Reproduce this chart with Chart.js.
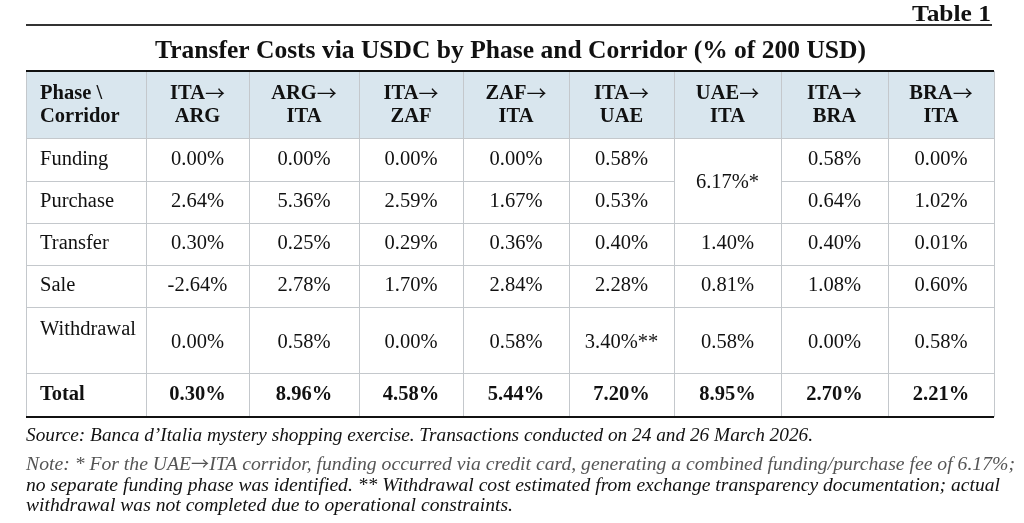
<!DOCTYPE html>
<html>
<head>
<meta charset="utf-8">
<title>Transfer Costs via USDC</title>
<script src="https://cdn.jsdelivr.net/npm/chart.js@4.4.1/dist/chart.umd.min.js"></script>
<style>
  html, body { margin: 0; padding: 0; background: #fff; }
  #table1 { display: block; }
</style>
</head>
<body>
<canvas id="table1" width="1024" height="523"></canvas>
<script>
// table content
const corridors = ['ITA→ARG', 'ARG→ITA', 'ITA→ZAF', 'ZAF→ITA', 'ITA→UAE', 'UAE→ITA', 'ITA→BRA', 'BRA→ITA'];
const phases = ['Funding', 'Purchase', 'Transfer', 'Sale', 'Withdrawal', 'Total'];
const funding = [0.00, 0.00, 0.00, 0.00, 0.58, null, 0.58, 0.00];
const purchase = [2.64, 5.36, 2.59, 1.67, 0.53, null, 0.64, 1.02];
const transfer = [0.30, 0.25, 0.29, 0.36, 0.40, 1.40, 0.40, 0.01];
const sale = [-2.64, 2.78, 1.70, 2.84, 2.28, 0.81, 1.08, 0.60];
const withdrawal = [0.00, 0.58, 0.00, 0.58, 3.40, 0.58, 0.00, 0.58];
const total = [0.30, 8.96, 4.58, 5.44, 7.20, 8.95, 2.70, 2.21];
// UAE->ITA funding + purchase were one fee (merged cell)
const combinedCorridor = 'UAE→ITA';
const combinedValue = 6.17;
const withdrawalMarks = ['', '', '', '', '**', '', '', ''];

const tableLabel = 'Table 1';
const titleText = 'Transfer Costs via USDC by Phase and Corridor (% of 200 USD)';
const cornerHeader = ['Phase \\', 'Corridor'];
const sourceText = 'Source: Banca d\u2019Italia mystery shopping exercise. Transactions conducted on 24 and 26 March 2026.';
const noteLines = [
    'Note: * For the UAE→ITA corridor, funding occurred via credit card, generating a combined funding/purchase fee of 6.17%;',
    'no separate funding phase was identified. ** Withdrawal cost estimated from exchange transparency documentation; actual',
    'withdrawal was not completed due to operational constraints.'
];

// layout (scale units == px inside the chart area)
const colWidths = [120, 103, 110, 104, 106, 105, 107, 107, 106];
const rowHeights = [67, 43, 42, 42, 42, 66, 44];
const colEdges = [0];
colWidths.forEach(w => colEdges.push(colEdges[colEdges.length - 1] + w));
const rowEdges = [0];
rowHeights.forEach(h => rowEdges.push(rowEdges[rowEdges.length - 1] + h));
const colMid = (c) => (colEdges[c] + colEdges[c + 1]) / 2;
const rowMid = (r) => (rowEdges[r] + rowEdges[r + 1]) / 2;

const SERIF = "'Liberation Serif', 'Times New Roman', serif";
const ARROW_FONT = "20px 'Noto Sans CJK JP', 'DejaVu Sans', sans-serif";
const NOTE_ARROW_FONT = "17px 'Noto Sans CJK JP', 'DejaVu Sans', sans-serif";
const fmt = (v) => v.toFixed(2) + '%';

const rowSeries = [funding, purchase, transfer, sale, withdrawal, total];
const datasets = rowSeries.map((arr, i) => {
    const pts = [];
    arr.forEach((v, j) => {
        if (v === null) return;
        let yOff = 0;
        if (phases[i] === 'Withdrawal') yOff = 3;
        pts.push({ x: colMid(j + 1), y: rowMid(i + 1) + yOff, v: v, mark: phases[i] === 'Withdrawal' ? withdrawalMarks[j] : '' });
    });
    return { label: phases[i], data: pts, pointRadius: 0, bold: phases[i] === 'Total' };
});
const cj = corridors.indexOf(combinedCorridor) + 1;
datasets.push({
    label: 'Funding + Purchase',
    data: [{ x: colMid(cj), y: rowEdges[2] + 2, v: combinedValue, mark: '*' }],
    pointRadius: 0,
    bold: false
});

// header "XXX→" : letters in the serif, arrow in a font that has a proper long arrow
function drawCorridorTop(ctx, text, cx, cy) {
    const bold = 'bold 20.5px ' + SERIF;
    ctx.font = bold;
    const w1 = ctx.measureText(text).width;
    ctx.font = ARROW_FONT;
    const w2 = ctx.measureText('→').width;
    const x0 = cx - (w1 + w2) / 2;
    ctx.textAlign = 'left';
    ctx.font = bold;
    ctx.fillText(text, x0, cy);
    ctx.font = ARROW_FONT;
    ctx.fillText('→', x0 + w1, cy);
}

// text stretched/condensed to the measured line length, arrows swapped to the arrow font
function fitText(ctx, text, x, y, width, font) {
    const parts = text.split('→');
    const pieces = [];
    parts.forEach((p, i) => {
        if (i > 0) pieces.push({ t: '→', f: NOTE_ARROW_FONT });
        if (p) pieces.push({ t: p, f: font });
    });
    let w = 0;
    pieces.forEach(pc => { ctx.font = pc.f; pc.w = ctx.measureText(pc.t).width; w += pc.w; });
    ctx.save();
    ctx.translate(x, y);
    ctx.scale(width / w, 1);
    let cx = 0;
    pieces.forEach(pc => { ctx.font = pc.f; ctx.fillText(pc.t, cx, 0); cx += pc.w; });
    ctx.restore();
}

const tablePlugin = {
    id: 'tablePlugin',
    beforeDatasetsDraw(chart) {
        const ctx = chart.ctx;
        const xs = chart.scales.x, ys = chart.scales.y;
        const X = (v) => xs.getPixelForValue(v);
        const Y = (v) => ys.getPixelForValue(v);
        const right = colEdges[colEdges.length - 1];
        const bottom = rowEdges[rowEdges.length - 1];
        ctx.save();
        // header background
        ctx.fillStyle = '#d9e6ee';
        ctx.fillRect(X(0), Y(0), X(right) - X(0), Y(rowEdges[1]) - Y(0));
        // inner grid
        ctx.strokeStyle = '#c4c8cc';
        ctx.lineWidth = 1;
        ctx.beginPath();
        colEdges.forEach((e) => {
            const px = Math.round(X(e)) + 0.5;
            ctx.moveTo(px, Y(0));
            ctx.lineTo(px, Y(bottom));
        });
        for (let r = 1; r < rowEdges.length - 1; r++) {
            const py = Math.round(Y(rowEdges[r])) + 0.5;
            if (r === 2) {
                // skip merged cell
                ctx.moveTo(X(0), py);
                ctx.lineTo(X(colEdges[cj]), py);
                ctx.moveTo(X(colEdges[cj + 1]), py);
                ctx.lineTo(X(right), py);
            } else {
                ctx.moveTo(X(0), py);
                ctx.lineTo(X(right), py);
            }
        }
        ctx.stroke();
        // top/bottom rules
        ctx.strokeStyle = '#111';
        ctx.lineWidth = 2;
        ctx.beginPath();
        ctx.moveTo(X(0), Y(0));
        ctx.lineTo(X(right), Y(0));
        ctx.moveTo(X(0), Y(bottom));
        ctx.lineTo(X(right), Y(bottom));
        ctx.stroke();
        ctx.restore();
    },
    afterDatasetsDraw(chart) {
        const ctx = chart.ctx;
        const xs = chart.scales.x, ys = chart.scales.y;
        const X = (v) => xs.getPixelForValue(v);
        const Y = (v) => ys.getPixelForValue(v);
        ctx.save();
        ctx.fillStyle = '#111';
        ctx.textBaseline = 'middle';
        // header row
        ctx.font = 'bold 20.5px ' + SERIF;
        ctx.textAlign = 'left';
        ctx.fillText(cornerHeader[0], X(14), Y(rowMid(0) - 11));
        ctx.fillText(cornerHeader[1], X(14), Y(rowMid(0) + 12));
        corridors.forEach((c, j) => {
            const parts = c.split('→');
            drawCorridorTop(ctx, parts[0], X(colMid(j + 1)), Y(rowMid(0) - 11));
            ctx.font = 'bold 20.5px ' + SERIF;
            ctx.textAlign = 'center';
            ctx.fillText(parts[1], X(colMid(j + 1)), Y(rowMid(0) + 12));
        });
        // phase labels
        ctx.textAlign = 'left';
        phases.forEach((p, i) => {
            ctx.font = (p === 'Total' ? 'bold ' : '') + '20.5px ' + SERIF;
            const yOff = p === 'Withdrawal' ? -10 : 0;
            ctx.fillText(p, X(14), Y(rowMid(i + 1) + yOff));
        });
        // values
        ctx.textAlign = 'center';
        chart.data.datasets.forEach((ds, di) => {
            const meta = chart.getDatasetMeta(di);
            ctx.font = (ds.bold ? 'bold ' : '') + '20.5px ' + SERIF;
            meta.data.forEach((el, k) => {
                const raw = ds.data[k];
                ctx.fillText(fmt(raw.v) + raw.mark, el.x, el.y);
            });
        });
        ctx.restore();
    },
    afterDraw(chart) {
        const ctx = chart.ctx;
        const area = chart.chartArea;
        ctx.save();
        ctx.fillStyle = '#111';
        ctx.textBaseline = 'alphabetic';
        ctx.textAlign = 'left';
        // table number and rule
        fitText(ctx, tableLabel, 912, 21, 79, 'bold 24px ' + SERIF);
        ctx.strokeStyle = '#333';
        ctx.lineWidth = 2;
        ctx.beginPath();
        ctx.moveTo(area.left, 25);
        ctx.lineTo(992, 25);
        ctx.stroke();
        // title
        fitText(ctx, titleText, 155, 58, 711, 'bold 25px ' + SERIF);
        // source / notes
        const noteFont = 'italic 18.5px ' + SERIF;
        fitText(ctx, sourceText, area.left, 441, 787, noteFont);
        const noteWidths = [989, 974, 487];
        const noteY = [470, 491, 511];
        noteLines.forEach((t, i) => {
            ctx.fillStyle = i === 0 ? '#555' : '#111';
            fitText(ctx, t, area.left, noteY[i], noteWidths[i], noteFont);
        });
        ctx.restore();
    }
};

new Chart(document.getElementById('table1'), {
    type: 'scatter',
    data: { datasets: datasets },
    options: {
        responsive: false,
        animation: false,
        layout: { padding: { left: 26, right: 30, top: 71, bottom: 106 } },
        plugins: { legend: { display: false }, tooltip: { enabled: false } },
        scales: {
            x: { type: 'linear', display: false, min: 0, max: colEdges[colEdges.length - 1] },
            y: { type: 'linear', display: false, reverse: true, min: 0, max: rowEdges[rowEdges.length - 1] }
        }
    },
    plugins: [tablePlugin]
});
</script>
</body>
</html>
